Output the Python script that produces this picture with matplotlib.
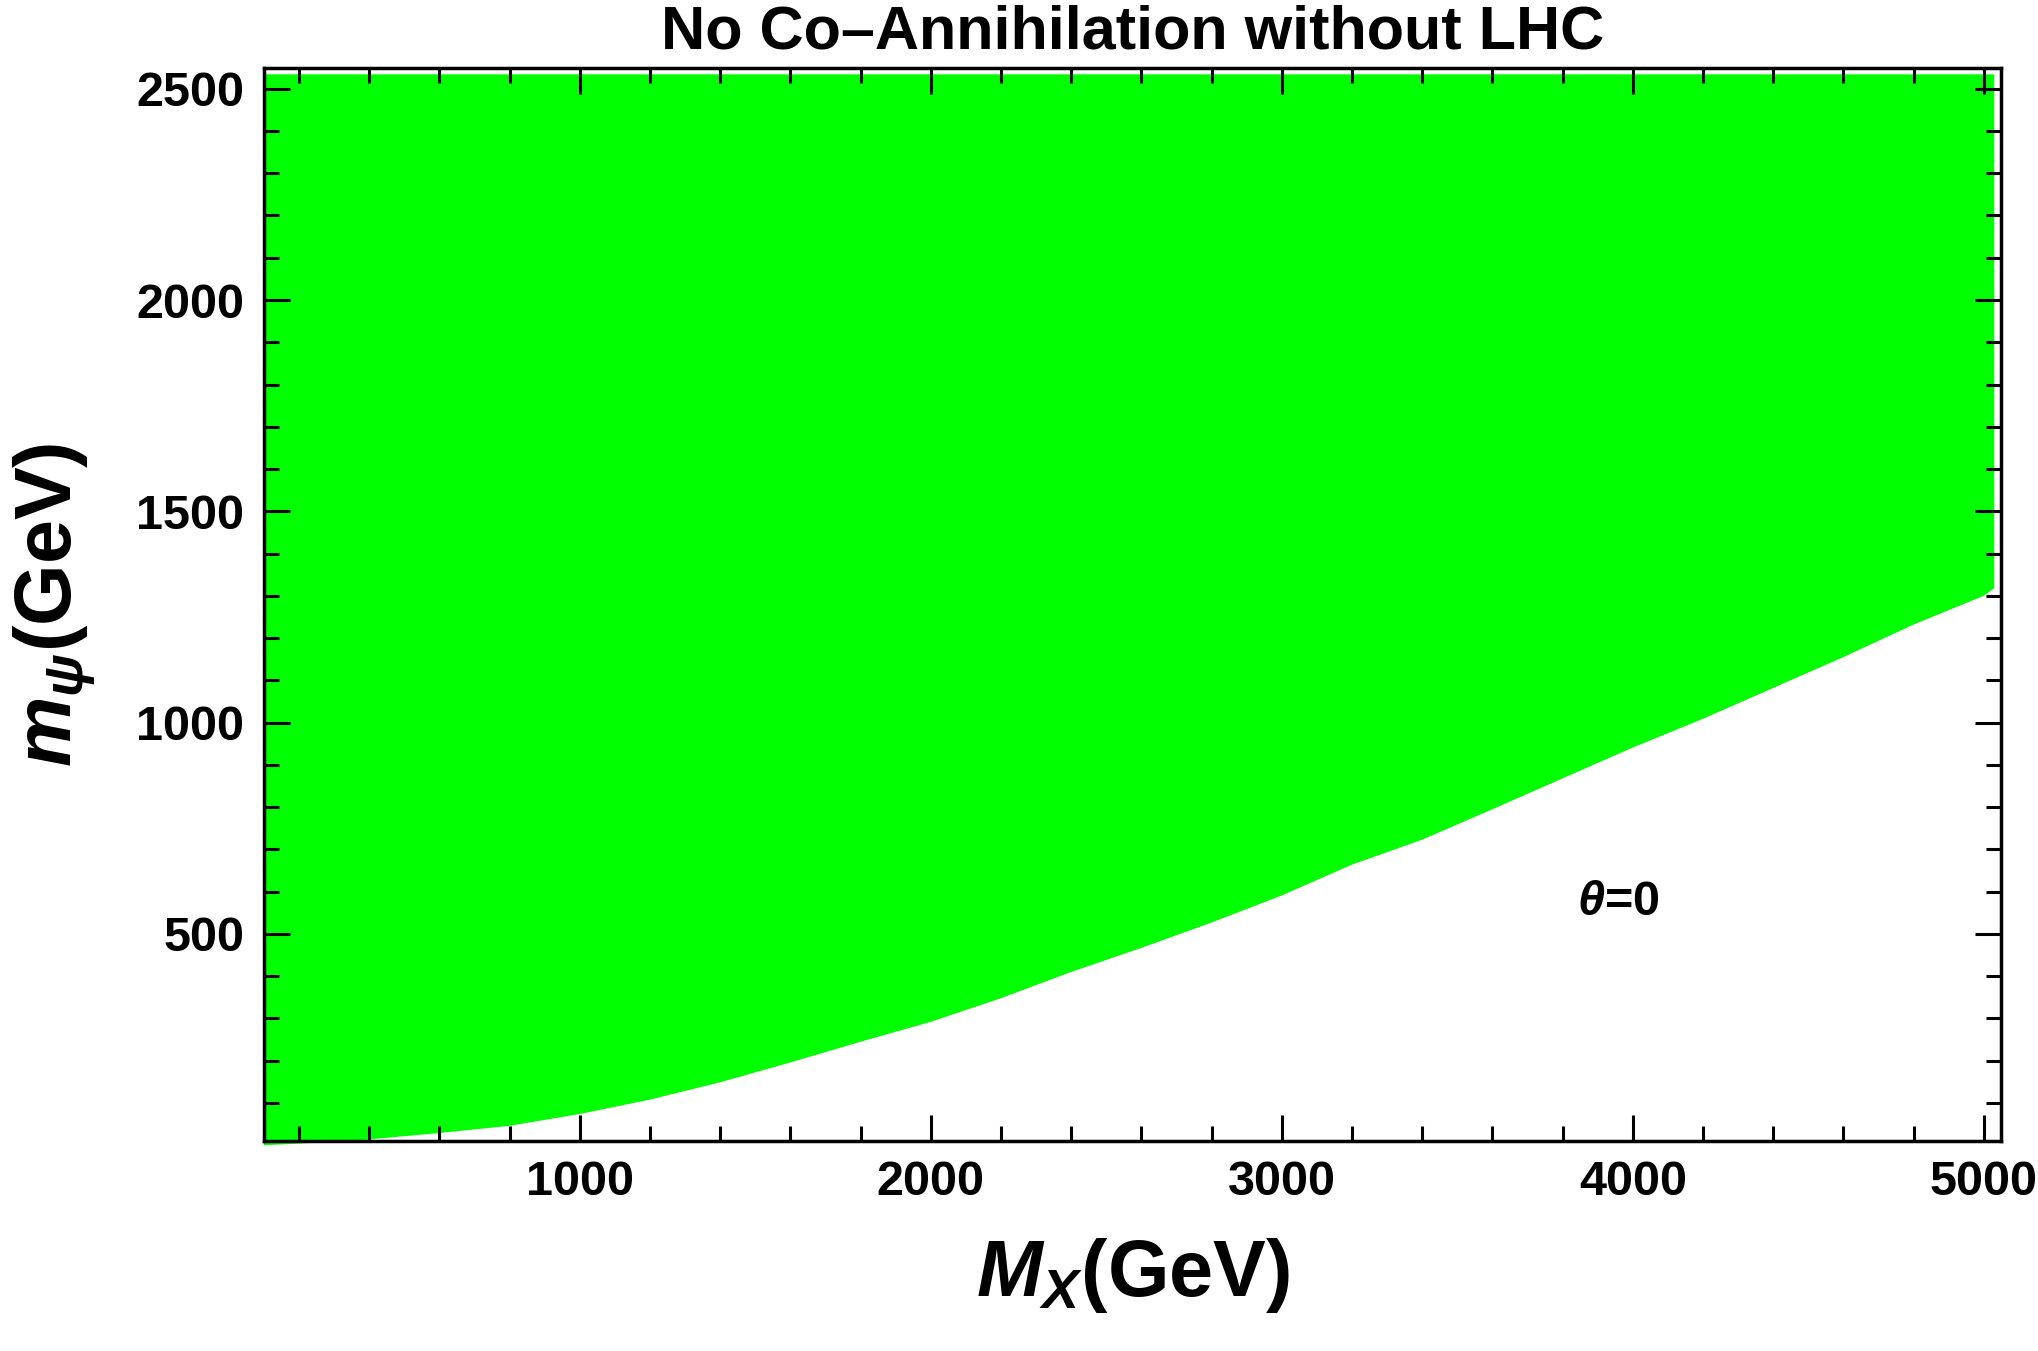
import numpy as np
import matplotlib
matplotlib.use("Agg")
import matplotlib.pyplot as plt
from matplotlib.ticker import MultipleLocator

plt.rcParams['font.family'] = ['Liberation Sans', 'DejaVu Sans']
plt.rcParams['font.weight'] = 'bold'
plt.rcParams['mathtext.fontset'] = 'custom'
plt.rcParams['mathtext.rm'] = 'Liberation Sans:bold'
plt.rcParams['mathtext.it'] = 'Liberation Sans:italic:bold'
plt.rcParams['mathtext.bf'] = 'Liberation Sans:bold'

#Lower edge of the allowed region
edge_mx = [100, 200, 388, 600, 800, 1000, 1200, 1400, 1600, 1800, 2000, 2200, 2400,
           2600, 2800, 3000, 3200, 3400, 3600, 3800, 4000, 4200, 4400, 4600, 4800,
           5000, 5030]
edge_mpsi = [0, 4, 13, 29, 46, 74, 108, 149, 196, 245, 292, 348, 410,
             467, 527, 591, 664, 723, 795, 868, 941, 1009, 1082, 1155, 1232,
             1300, 1318]
top_mpsi = 2534

x_ticks = [1000, 2000, 3000, 4000, 5000]
y_ticks = [500, 1000, 1500, 2000, 2500]

fig = plt.figure(figsize=(20.38, 13.51), dpi=100)
ax = fig.add_axes([0.1295, 0.1554, 0.8525, 0.7946])

#Polygon: along the lower edge, then back along the top
poly_x = edge_mx + [edge_mx[-1], edge_mx[0]]
poly_y = edge_mpsi + [top_mpsi, top_mpsi]
ax.fill(poly_x, poly_y, color='#00ff00', lw=0, clip_on=False, zorder=1)

ax.text(3960, 575, r'$\theta$=0', fontsize=35, fontweight='bold',
        ha='center', va='center')

ax.set_xlim(100, 5050)
ax.set_ylim(10, 2550)
ax.set_xticks(x_ticks)
ax.set_yticks(y_ticks)
ax.xaxis.set_minor_locator(MultipleLocator(200))
ax.yaxis.set_minor_locator(MultipleLocator(100))
ax.tick_params(which='both', direction='in', top=True, right=True, width=2.2)
ax.tick_params(which='major', length=19, labelsize=35, pad=14)
ax.tick_params(which='minor', length=11)
for lab in ax.get_xticklabels() + ax.get_yticklabels():
    lab.set_fontweight('bold')
for sp in ax.spines.values():
    sp.set_linewidth(2.5)
    sp.set_zorder(3)

ax.set_xlabel(r'$M_X$(GeV)', fontsize=57, fontweight='bold', labelpad=22)
ax.set_ylabel(r'$m_\psi$(GeV)', fontsize=57, fontweight='bold', labelpad=28)
ax.set_title('No Co\u2013Annihilation without LHC', fontsize=44, fontweight='bold', pad=14)

fig.savefig('out.png', dpi=100)
